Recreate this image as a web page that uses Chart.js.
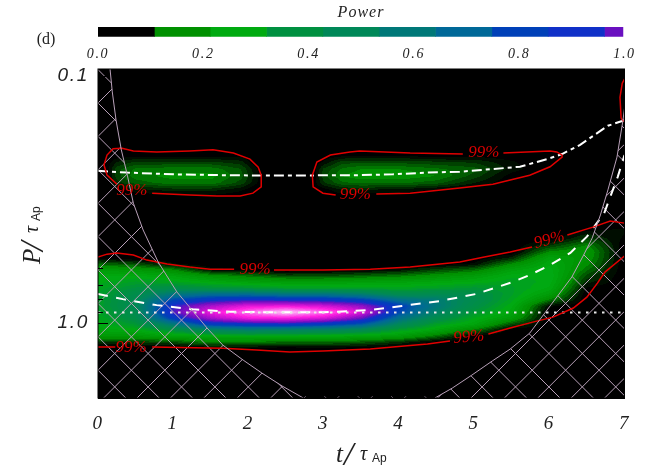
<!DOCTYPE html>
<html lang="en">
<head>
<meta charset="UTF-8">
<title>Wavelet power</title>
<script src="https://cdn.jsdelivr.net/npm/chart.js"></script>
<style>
  html, body { margin: 0; padding: 0; background: #fff; }
  canvas { position: absolute; left: 0; top: 0; }
</style>
</head>
<body>
<canvas id="mainChart" width="656" height="469"></canvas>
<canvas id="barChart" width="656" height="66"></canvas>
<script>
// power in percent, one row per time
const lowBandP = [.390,.420,.453,.488,.516,.546,.577,.610,.645,.682,.722,.763,.807,.853,.903,.954,1.009,1.067,1.129,1.194,1.263,1.335];
const lowBandT = [0,.5,1,1.5,2,2.5,3,3.5,4,4.5,5,5.5,6,6.5,7];
const lowBandPower = [
  [0,0,0,0,0,2,12,22,27,29,31,33,33,33,32,30,28,26,20,8,0,0],
  [0,0,0,0,0,0,10,20,28,33,38,43,46,47,45,42,36,28,20,8,0,0],
  [0,0,0,0,0,0,3,16,25,31,42,60,80,95,98,85,60,38,24,10,0,0],
  [0,0,0,0,0,0,0,4,18,27,38,66,90,112,126,112,86,50,27,15,2,0],
  [0,0,0,0,0,0,0,2,14,24,36,66,94,124,148,128,90,55,28,14,2,0],
  [0,0,0,0,0,0,0,0,10,22,33,62,92,126,168,130,92,52,28,13,1,0],
  [0,0,0,0,0,0,0,1,10,22,33,62,90,120,146,122,86,50,27,13,2,0],
  [0,0,0,0,0,0,0,2,12,23,32,56,84,108,122,102,76,45,25,11,1,0],
  [0,0,0,0,0,0,0,4,14,24,31,44,66,84,80,66,50,33,22,7,0,0],
  [0,0,0,0,0,0,1,9,18,26,33,46,58,60,54,44,33,25,13,1,0,0],
  [0,0,0,0,0,0,3,13,22,28,36,42,44,41,36,30,26,14,1,0,0,0],
  [0,0,0,0,0,6,16,24,29,32,33,33,31,28,26,21,10,0,0,0,0,0],
  [0,0,0,8,16,24,27,29,30,29,27,22,14,3,0,0,0,0,0,0,0,0],
  [0,2,8,16,19,18,16,13,9,6,2,0,0,0,0,0,0,0,0,0,0,0],
  [0,3,2,0,0,0,0,0,0,0,0,0,0,0,0,0,0,0,0,0,0,0]
];
const highBandP = [.196,.209,.223,.238,.254,.271,.289,.309];
const highBandT = [0,.1,.25,.5,1,1.5,1.9,2.1,2.2,2.85,3,3.25,3.5,4,4.5,5,5.5,5.9,7];
const highBandPower = [
  [0,0,0,0,0,0,0,0],
  [0,0,0,0,0,0,0,0],
  [0,0,5,9,9,6,1,0],
  [0,1,8,13,14,11,4,0],
  [0,1,8,14,16,14,6,1],
  [0,1,8,14,16,14,6,1],
  [0,1,6,10,11,9,3,0],
  [0,0,0,3,4,3,0,0],
  [0,0,0,0,0,0,0,0],
  [0,0,0,0,0,0,0,0],
  [0,0,3,8,9,7,1,0],
  [0,1,9,13,15,12,5,0],
  [0,2,9,15,17,13,5,0],
  [0,2,9,15,17,13,4,0],
  [0,0,8,13,15,11,2,0],
  [0,1,7,11,9,5,0,0],
  [0,0,3,4,1,0,0,0],
  [0,0,0,0,0,0,0,0],
  [0,0,0,0,0,0,0,0]
];

// colour table of the map
const mapStops = [0,.02,.15,.27,.37,.48,.58,.69,.8,.91,1,1.15,1.3,1.5,1.7];
const mapColors = ['#000000','#000800','#009000','#00aa10','#009040','#008858','#007878','#006898','#0040b8','#1030c8','#6a10c0','#c010d0','#ff20e0','#ff80f0','#ffd8f8'];

// colour bar
const barWidths = [.107,.106,.107,.107,.107,.107,.107,.107,.107,.035];
const barColors = ['#000000','#009000','#00aa10','#009040','#008858','#007878','#006898','#0040b8','#1030c8','#6a10c0'];

// cone of influence
const coiLeftT = [.16,.19,.24,.31,.39,.47,.60,.80,1.05,1.45,1.66,1.93,2.18,2.45,2.73];
const coiLeftP = [.0937,.116,.151,.199,.252,.327,.420,.566,.749,1.047,1.228,1.412,1.594,1.799,2.01];
const coiRightT = [4.48,4.71,4.97,5.24,5.48,5.74,5.94,6.12,6.30,6.45,6.57,6.68,6.78,6.90,6.98,7];
const coiRightP = [2.01,1.833,1.624,1.425,1.274,1.098,.911,.770,.651,.535,.453,.365,.289,.213,.151,.135];

// ridges of the two bands and the reference period
const ridgeHighT = [0,.39,1,1.66,2.29,3.48,3.92,4.38,4.81,5.25,5.61,5.97,6.17,6.41,6.58,6.78,7];
const ridgeHighP = [.242,.246,.250,.252,.253,.252,.250,.246,.244,.238,.233,.217,.207,.190,.175,.159,.151];
const ridgeLowT = [0,.33,.78,1.26,1.76,2.38,2.99,3.62,4.04,4.55,5.04,5.52,5.74,6.01,6.28,6.50,6.73,6.91,7];
const ridgeLowP = [.763,.800,.846,.880,.900,.905,.905,.886,.853,.814,.761,.681,.639,.582,.520,.447,.359,.256,.209];
const refT = [0,7];
const refP = [.907,.907];

// 99% contours, null leaves the gap for a label
const c1T = [.72,1.22,1.58,1.89,2.06,2.17,2.17,2.13,2.02,1.80,1.53,1.22,.78,.47,.32,.20,.12,.08,.12,.25];
const c1P = [.298,.303,.306,.306,.298,.281,.252,.234,.217,.205,.199,.201,.203,.201,.196,.197,.209,.229,.252,.274];
const c2T = [3.16,2.99,2.86,2.85,2.91,3.09,3.35,3.48,4.15,4.85,null,5.39,5.70,6.01,6.10,6.17,6.17,6.01,5.74,5.25,4.81,4.15,3.70];
const c2P = [.303,.298,.281,.252,.223,.209,.203,.201,.205,.207,null,.205,.203,.201,.203,.209,.213,.233,.252,.274,.284,.298,.300];
const c3T = [7,6.97,6.94,6.955,6.98,7];
const c3P = [.103,.107,.122,.148,.152,.152];
const c4T = [0,.12,.25,.47,.65,.92,1.22,1.49,1.81,null,2.34,2.99,3.62,4.15,4.81,5.12,5.48,5.77,null,6.24,6.58,6.81,7];
const c4P = [.541,.526,.520,.530,.556,.577,.593,.605,.605,null,.610,.610,.605,.593,.566,.541,.516,.492,null,.440,.409,.386,.394];
const c5T = [0,.23,null,.72,1.66,2.11,2.55,2.99,3.62,3.92,4.38,4.68,null,5.19,5.48,5.78,6.05,6.32,6.50,6.64,6.74,7];
const c5P = [1.251,1.251,null,1.251,1.263,1.286,1.310,1.298,1.274,1.251,1.216,1.183,null,1.108,1.047,.991,.946,.869,.785,.689,.622,.535];

const labelT = [.45,3.42,5.13,2.09,6.0,.44,4.93];
const labelP = [.292,.303,.205,.605,.461,1.251,1.14];
const labelTilt = [0,0,0,0,-15,0,-5];

const yMinorTicks = [.2,.3,.4,.5,.6,.7,.8,.9];
const yMajorTicks = [.1,1];

const TEXT = '#222';
const HATCH = '#b8a0b8';

function hex(c) {
  return [parseInt(c.slice(1,3),16), parseInt(c.slice(3,5),16), parseInt(c.slice(5,7),16)];
}
const mapRgb = mapColors.map(hex);

function colorFor(v) {
  // the original map is filled in steps
  v = Math.floor(v / 0.025) * 0.025;
  if (v >= mapStops[mapStops.length-1]) return mapRgb[mapRgb.length-1];
  let i = 0;
  while (v >= mapStops[i+1]) i++;
  const f = (v - mapStops[i]) / (mapStops[i+1] - mapStops[i]);
  return [0,1,2].map(k => mapRgb[i][k] + f * (mapRgb[i+1][k] - mapRgb[i][k]));
}

function cellIndex(list, v) {
  if (v < list[0] || v > list[list.length-1]) return -1;
  let i = 0;
  while (i < list.length-2 && v > list[i+1]) i++;
  return i;
}

function sample(ts, ps, grid, t, p) {
  const i = cellIndex(ts, t), j = cellIndex(ps, p);
  if (i < 0 || j < 0) return 0;
  const a = (t - ts[i]) / (ts[i+1] - ts[i]);
  const b = Math.log(p / ps[j]) / Math.log(ps[j+1] / ps[j]);
  return (1-a)*(1-b)*grid[i][j] + a*(1-b)*grid[i+1][j] + (1-a)*b*grid[i][j+1] + a*b*grid[i+1][j+1];
}

function pairs(ts, ps) {
  return ts.map((t, i) => ({x: t, y: ps[i]}));
}

// the wide tick numbers of the original
const spacedTicks = {
  id: 'spacedTicks',
  beforeDraw(chart) { chart.ctx.letterSpacing = '1.7px'; },
  beforeDatasetsDraw(chart) { chart.ctx.letterSpacing = '0px'; }
};

const powerMap = {
  id: 'powerMap',
  beforeDatasetsDraw(chart) {
    const {ctx, chartArea: a, scales: {x, y}} = chart;
    const left = Math.round(a.left), top = Math.round(a.top);
    const w = Math.round(a.right) - left, h = Math.round(a.bottom) - top;
    const img = ctx.createImageData(w, h);
    for (let py = 0; py < h; py++) {
      const p = y.getValueForPixel(top + py + .5);
      for (let px = 0; px < w; px++) {
        const t = x.getValueForPixel(left + px + .5);
        const v = (sample(lowBandT, lowBandP, lowBandPower, t, p) + sample(highBandT, highBandP, highBandPower, t, p)) / 100;
        const c = colorFor(v);
        const o = (py * w + px) * 4;
        img.data[o] = c[0]; img.data[o+1] = c[1]; img.data[o+2] = c[2]; img.data[o+3] = 255;
      }
    }
    ctx.putImageData(img, left, top);

    // hatching outside the cone of influence
    ctx.save();
    ctx.beginPath();
    ctx.moveTo(a.left, a.top);
    coiLeftT.forEach((t, i) => ctx.lineTo(x.getPixelForValue(t), y.getPixelForValue(coiLeftP[i])));
    ctx.lineTo(a.left, a.bottom);
    ctx.closePath();
    ctx.moveTo(a.right, a.bottom);
    coiRightT.forEach((t, i) => ctx.lineTo(x.getPixelForValue(t), y.getPixelForValue(coiRightP[i])));
    ctx.closePath();
    ctx.rect(a.left, a.bottom - 1.5, a.right - a.left, 1.5);
    ctx.clip();
    ctx.strokeStyle = HATCH;
    ctx.lineWidth = 1;
    const step = 33.4, span = a.right - a.left;
    for (let k = -30; k < 30; k++) {
      const y0 = a.top + 34 + k * step;
      ctx.beginPath();
      ctx.moveTo(a.left, y0);
      ctx.lineTo(a.right, y0 + span);
      ctx.moveTo(a.left, y0);
      ctx.lineTo(a.right, y0 - span);
      ctx.stroke();
    }
    ctx.restore();
  },
  afterDatasetsDraw(chart) {
    const {ctx, chartArea: a, scales: {x, y}} = chart;
    ctx.save();
    // frame and inside ticks
    ctx.strokeStyle = '#000';
    ctx.lineWidth = 1;
    ctx.strokeRect(a.left, a.top, a.right - a.left, a.bottom - a.top);
    ctx.beginPath();
    yMinorTicks.forEach(p => {
      const py = Math.round(y.getPixelForValue(p)) + .5;
      ctx.moveTo(a.left, py); ctx.lineTo(a.left + 5, py);
    });
    yMajorTicks.forEach(p => {
      const py = Math.round(y.getPixelForValue(p)) + .5;
      ctx.moveTo(a.left, py); ctx.lineTo(a.left + 10, py);
    });
    ctx.stroke();

    // contour labels
    ctx.fillStyle = '#d80000';
    ctx.font = 'italic 17px "Liberation Serif"';
    ctx.textAlign = 'center';
    ctx.textBaseline = 'middle';
    labelT.forEach((t, i) => {
      ctx.save();
      ctx.translate(x.getPixelForValue(t), y.getPixelForValue(labelP[i]));
      ctx.rotate(labelTilt[i] * Math.PI / 180);
      ctx.fillText('99%', 0, 0);
      ctx.restore();
    });

    // axis titles, the subscript needs its own font
    ctx.fillStyle = TEXT;
    ctx.textAlign = 'left';
    ctx.textBaseline = 'alphabetic';
    ctx.font = 'italic 25px "Liberation Serif"';
    ctx.fillText('t', 336, 462);
    ctx.font = 'italic 34px "Liberation Serif"';
    ctx.fillText('/', 344, 465);
    ctx.font = 'italic 20px "Liberation Serif"';
    ctx.fillText('τ', 360, 460);
    ctx.font = '12px "Liberation Sans"';
    ctx.fillText('Ap', 372, 462);

    ctx.translate(40, 0);
    ctx.rotate(-Math.PI / 2);
    ctx.font = 'italic 25px "Liberation Serif"';
    ctx.fillText('P', -264, 0);
    ctx.font = 'italic 34px "Liberation Serif"';
    ctx.fillText('/', -251, 3);
    ctx.font = 'italic 20px "Liberation Serif"';
    ctx.fillText('τ', -233, -2);
    ctx.font = '12px "Liberation Sans"';
    ctx.fillText('Ap', -221, 0);
    ctx.restore();

    ctx.save();
    ctx.fillStyle = TEXT;
    ctx.textAlign = 'center';
    ctx.textBaseline = 'middle';
    ctx.font = 'italic 16px "Liberation Serif"';
    ctx.letterSpacing = '1px';
    ctx.fillText('Power', 361, 13);
    ctx.letterSpacing = '0px';
    ctx.font = '16px "Liberation Serif"';
    ctx.fillText('(d)', 46, 40);
    ctx.restore();
  }
};

function lineSet(ts, ps, color, width, dash) {
  return {
    data: pairs(ts, ps),
    showLine: true,
    pointRadius: 0,
    borderColor: color,
    borderWidth: width,
    borderDash: dash || [],
    spanGaps: false,
    tension: 0
  };
}

new Chart(document.getElementById('mainChart'), {
  type: 'scatter',
  data: {
    datasets: [
      lineSet(coiLeftT, coiLeftP, HATCH, 1),
      lineSet(coiRightT, coiRightP, HATCH, 1),
      lineSet(c1T, c1P, '#e00000', 1.5),
      lineSet(c2T, c2P, '#e00000', 1.5),
      lineSet(c3T, c3P, '#e00000', 1.5),
      lineSet(c4T, c4P, '#e00000', 1.5),
      lineSet(c5T, c5P, '#e00000', 1.5),
      lineSet(refT, refP, '#e8e8e8', 2, [2.5, 5.5]),
      lineSet(ridgeHighT, ridgeHighP, '#ffffff', 2, [10, 4, 4, 4]),
      lineSet(ridgeLowT, ridgeLowP, '#ffffff', 2, [10, 8.5])
    ]
  },
  options: {
    responsive: false,
    animation: false,
    layout: { padding: { top: 69, right: 31.5 } },
    plugins: { legend: { display: false }, tooltip: { enabled: false } },
    scales: {
      x: {
        type: 'linear',
        min: 0,
        max: 7,
        grid: { display: false },
        border: { color: '#000' },
        afterFit(s) { s.height = 71; },
        ticks: {
          stepSize: 1,
          padding: 7,
          color: TEXT,
          font: { family: 'Liberation Serif', style: 'italic', size: 19 }
        }
      },
      y: {
        type: 'logarithmic',
        reverse: true,
        min: 0.0937,
        max: 2.01,
        grid: { display: false },
        border: { color: '#000' },
        afterFit(s) { s.width = 98; },
        afterBuildTicks(s) { s.ticks = yMajorTicks.map(v => ({value: v})); },
        ticks: {
          padding: 1,
          color: TEXT,
          autoSkip: false,
          font: { family: 'Liberation Sans', style: 'italic', size: 19 },
          callback: v => Number(v).toFixed(1)
        }
      }
    }
  },
  plugins: [spacedTicks, powerMap]
});

new Chart(document.getElementById('barChart'), {
  type: 'bar',
  data: {
    labels: ['Power'],
    datasets: barWidths.map((w, i) => ({
      data: [w],
      backgroundColor: barColors[i],
      barPercentage: 1,
      categoryPercentage: 1
    }))
  },
  options: {
    indexAxis: 'y',
    responsive: false,
    animation: false,
    layout: { padding: { top: 27, left: 98, right: 31.5 } },
    plugins: { legend: { display: false }, tooltip: { enabled: false } },
    scales: {
      x: {
        stacked: true,
        min: 0,
        max: 1,
        grid: { display: false, drawTicks: false },
        border: { display: false },
        afterFit(s) { s.height = 29.3; },
        ticks: {
          stepSize: .2,
          padding: 9,
          maxRotation: 0,
          color: TEXT,
          font: { family: 'Liberation Serif', style: 'italic', size: 14 },
          callback: v => Number(v).toFixed(1)
        }
      },
      y: { stacked: true, display: false }
    }
  },
  plugins: [spacedTicks]
});
</script>
</body>
</html>
